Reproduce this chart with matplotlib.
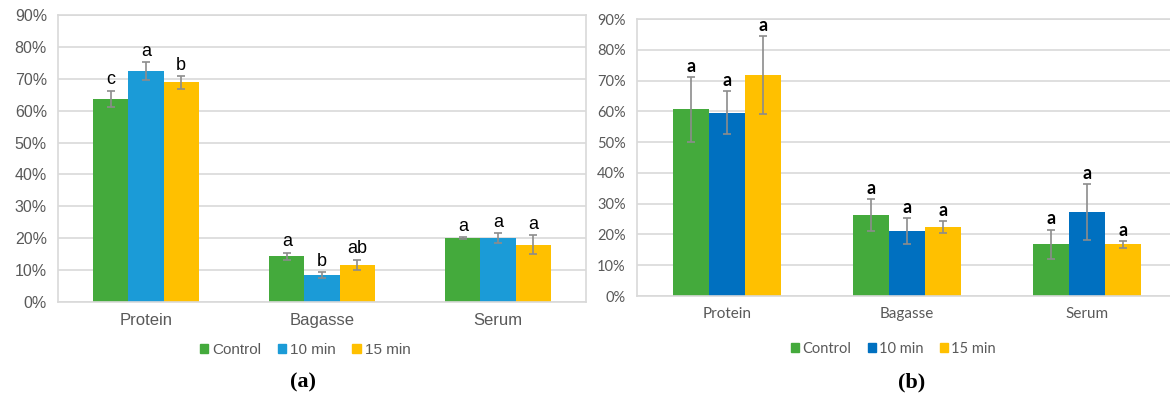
import matplotlib.pyplot as plt
import numpy as np
from matplotlib.patches import Patch

fractions = ["Protein", "Bagasse", "Serum"]
treatments = ["Control", "10 min", "15 min"]

# (a) mean share per fraction, one list per treatment
a_control = [63.7, 14.4, 20.0]
a_10min = [72.5, 8.5, 20.0]
a_15min = [68.9, 11.6, 18.0]
a_control_err = [2.6, 1.1, 0.4]
a_10min_err = [2.8, 0.9, 1.5]
a_15min_err = [2.0, 1.7, 3.1]
# significance letters, [fraction][treatment]
a_letters = [["c", "a", "b"], ["a", "b", "ab"], ["a", "a", "a"]]

# (b)
b_control = [60.6, 26.3, 16.8]
b_10min = [59.6, 21.1, 27.3]
b_15min = [71.8, 22.4, 16.8]
b_control_err = [10.4, 5.3, 4.8]
b_10min_err = [6.9, 4.2, 9.1]
b_15min_err = [12.8, 1.9, 1.1]
b_letters = [["a", "a", "a"], ["a", "a", "a"], ["a", "a", "a"]]

GRID = "#D9D9D9"
TEXT = "#595959"


def draw_panel(ax, means, errs, letters, colors, font, letter_kw, ytick_size, xtick_size):
    x = np.arange(len(fractions))
    w = 0.2
    for i, (m, e, c) in enumerate(zip(means, errs, colors)):
        pos = x + (i - 1) * w
        ax.bar(pos, m, w, color=c, zorder=2)
        ax.errorbar(pos, m, yerr=e, fmt="none", ecolor="#8C8C8C",
                    elinewidth=1.2, capsize=3, capthick=1.2, zorder=3)
        for k in range(len(fractions)):
            ax.annotate(letters[k][i], (pos[k], m[k] + e[k]),
                        xytext=(0, 1.5), textcoords="offset points",
                        ha="center", va="bottom", family=font, **letter_kw)
    ax.set_xlim(-0.5, 2.5)
    ax.set_ylim(0, 90)
    ax.set_yticks(np.arange(0, 91, 10))
    ax.set_yticklabels([f"{v}%" for v in range(0, 91, 10)],
                       family=font, fontsize=ytick_size, color=TEXT)
    ax.set_xticks(x)
    ax.set_xticklabels(fractions, family=font, fontsize=xtick_size, color=TEXT)
    ax.tick_params(length=0, pad=8)
    ax.yaxis.grid(True, color=GRID, linewidth=1.2, zorder=0)
    ax.set_axisbelow(True)
    for s in ax.spines.values():
        s.set_color(GRID)
        s.set_linewidth(1.2)


fig = plt.figure(figsize=(11.7, 4.01), dpi=100)

ax_a = fig.add_axes([0.0496, 0.2469, 0.4513, 0.7157])
colors_a = ["#44AA3C", "#1B9BD7", "#FFC000"]
draw_panel(ax_a, [a_control, a_10min, a_15min],
           [a_control_err, a_10min_err, a_15min_err],
           a_letters, colors_a, "Liberation Sans",
           dict(fontsize=13, color="black"), 11.5, 12)

ax_b = fig.add_axes([0.5444, 0.2618, 0.4615, 0.6908])
colors_b = ["#44AA3C", "#0070C0", "#FFC000"]
draw_panel(ax_b, [b_control, b_10min, b_15min],
           [b_control_err, b_10min_err, b_15min_err],
           b_letters, colors_b, "Lato",
           dict(fontsize=13, color="black", fontweight="bold"), 10.5, 11)

for colors, cx, cy, font, size in [(colors_a, 0.2607, 0.127, "Liberation Sans", 11),
                                   (colors_b, 0.7637, 0.1297, "Lato", 10.5)]:
    handles = [Patch(color=c) for c in colors]
    fig.legend(handles, treatments, loc="center", bbox_to_anchor=(cx, cy),
               ncol=3, frameon=False, handlelength=0.55, handleheight=0.55,
               handletextpad=0.25, columnspacing=1.1,
               prop=dict(family=font, size=size), labelcolor=TEXT)

fig.text(0.259, 1 - 382 / 401, "(a)", ha="center", va="center",
         family="Liberation Serif", fontweight="bold", fontsize=16)
fig.text(0.7795, 1 - 382 / 401, "(b)", ha="center", va="center",
         family="Liberation Serif", fontweight="bold", fontsize=16)

fig.savefig("out.png", dpi=100)
